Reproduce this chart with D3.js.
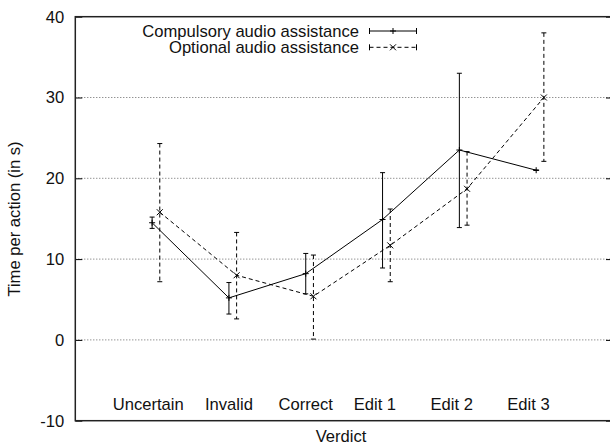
<!DOCTYPE html>
<html lang="en">
<head>
<meta charset="UTF-8">
<title>Time per action</title>
<style>
  body { margin: 0; background: #fff; }
  svg { display: block; }
  text { font-family: "Liberation Sans", Arial, Helvetica, sans-serif; font-size: 16.6px; fill: #111; }
</style>
</head>
<body>
<div id="chart"></div>
<script src="https://d3js.org/d3.v7.min.js"></script>
<script>
// values
const categories = ["Uncertain", "Invalid", "Correct", "Edit 1", "Edit 2", "Edit 3"];
const labelAt = [0.95, 2, 3, 3.9, 4.9, 5.9];

const compMean = [14.5, 5.2, 8.2, 14.9, 23.5, 21.0];
const compLow  = [13.8, 3.2, 5.7, 8.9, 13.9, 21.0];
const compHigh = [15.2, 7.1, 10.7, 20.7, 33.0, 21.0];

const optMean = [15.8, 8.0, 5.4, 11.7, 18.7, 30.0];
const optLow  = [7.2, 2.6, 0.1, 7.2, 14.2, 22.1];
const optHigh = [24.3, 13.3, 10.5, 16.2, 23.3, 38.0];

const yTicks = [-10, 0, 10, 20, 30, 40];

const width = 610, height = 445;
const plotL = 75.3, plotR = 613, plotT = 16.7, plotB = 420.7;

const x = d3.scaleLinear().domain([0, 7]).range([plotL, plotR]);
const y = d3.scaleLinear().domain([-10, 40]).range([plotB, plotT]);

const svg = d3.select("#chart").append("svg")
    .attr("width", width)
    .attr("height", height);

// grid
svg.append("g")
  .selectAll("line")
  .data(yTicks.filter(t => t > -10 && t < 40))
  .join("line")
    .attr("x1", plotL).attr("x2", plotR)
    .attr("y1", d => y(d)).attr("y2", d => y(d))
    .attr("stroke", "#666")
    .attr("stroke-width", 1)
    .attr("stroke-dasharray", "1,2");

// y axis, ticks inward on both sides
const yAxis = svg.append("g")
    .attr("transform", `translate(${plotL},0)`)
    .call(d3.axisLeft(y).tickValues(yTicks).tickSize(-7).tickFormat(d => String(d)));
yAxis.select(".domain").remove();
yAxis.selectAll(".tick line").attr("stroke", "#000");
yAxis.selectAll("text")
    .attr("x", -11)
    .style("font-size", "16.6px")
    .style("font-family", "'Liberation Sans', Arial, sans-serif")
    .attr("fill", "#111");

const yAxisR = svg.append("g")
    .attr("transform", `translate(${plotR},0)`)
    .call(d3.axisRight(y).tickValues(yTicks).tickSize(-7).tickFormat(""));
yAxisR.select(".domain").remove();
yAxisR.selectAll(".tick line").attr("stroke", "#000");

// border
svg.append("rect")
    .attr("x", plotL).attr("y", plotT)
    .attr("width", plotR - plotL).attr("height", plotB - plotT)
    .attr("fill", "none")
    .attr("stroke", "#222")
    .attr("stroke-width", 1.5);

// category labels inside the plot
svg.append("g")
  .selectAll("text")
  .data(categories)
  .join("text")
    .attr("x", (d, i) => x(labelAt[i]))
    .attr("y", y(-8.7))
    .attr("text-anchor", "middle")
    .text(d => d);

// axis titles
svg.append("text")
    .attr("x", 341)
    .attr("y", 441.5)
    .attr("text-anchor", "middle")
    .text("Verdict");

svg.append("text")
    .attr("transform", "translate(19.5,219) rotate(-90)")
    .attr("text-anchor", "middle")
    .text("Time per action (in s)");

const series = [
  { name: "Compulsory audio assistance", mean: compMean, low: compLow, high: compHigh, shift: 0, dash: null, mark: "plus" },
  { name: "Optional audio assistance", mean: optMean, low: optLow, high: optHigh, shift: 0.1, dash: "4,3", mark: "cross" }
];

const line = d3.line()
    .x(d => x(d.x))
    .y(d => y(d.v));

function drawMark(g, type, cx, cy) {
  const s = 3;
  if (type === "plus") {
    g.append("path").attr("d", `M${cx - s},${cy}H${cx + s}M${cx},${cy - s}V${cy + s}`);
  } else {
    g.append("path").attr("d", `M${cx - s},${cy - s}L${cx + s},${cy + s}M${cx - s},${cy + s}L${cx + s},${cy - s}`);
  }
}

series.forEach(s => {
  const pts = s.mean.map((v, i) => ({ x: i + 1 + s.shift, v: v, lo: s.low[i], hi: s.high[i] }));
  const g = svg.append("g")
      .attr("fill", "none")
      .attr("stroke", "#000")
      .attr("stroke-width", 1);

  g.append("path")
      .datum(pts)
      .attr("d", line)
      .attr("stroke-dasharray", s.dash);

  pts.forEach(p => {
    const cx = x(p.x);
    g.append("path")
        .attr("d", `M${cx},${y(p.hi)}V${y(p.lo)}`)
        .attr("stroke-dasharray", s.dash);
    g.append("path")
        .attr("d", `M${cx - 2.5},${y(p.hi)}H${cx + 2.5}M${cx - 2.5},${y(p.lo)}H${cx + 2.5}`);
    drawMark(g, s.mark, cx, y(p.v));
  });
});

// legend
const legend = svg.append("g");
series.forEach((s, i) => {
  const ly = 31 + i * 16.3;
  legend.append("text")
      .attr("x", 359)
      .attr("y", ly)
      .attr("dy", "0.35em")
      .attr("text-anchor", "end")
      .text(s.name);
  const g = legend.append("g").attr("fill", "none").attr("stroke", "#000").attr("stroke-width", 1);
  g.append("path")
      .attr("d", `M369.5,${ly}H416.5`)
      .attr("stroke-dasharray", s.dash);
  g.append("path")
      .attr("d", `M369.5,${ly - 3}V${ly + 3}M416.5,${ly - 3}V${ly + 3}`);
  drawMark(g, s.mark, 393, ly);
});
</script>
</body>
</html>
